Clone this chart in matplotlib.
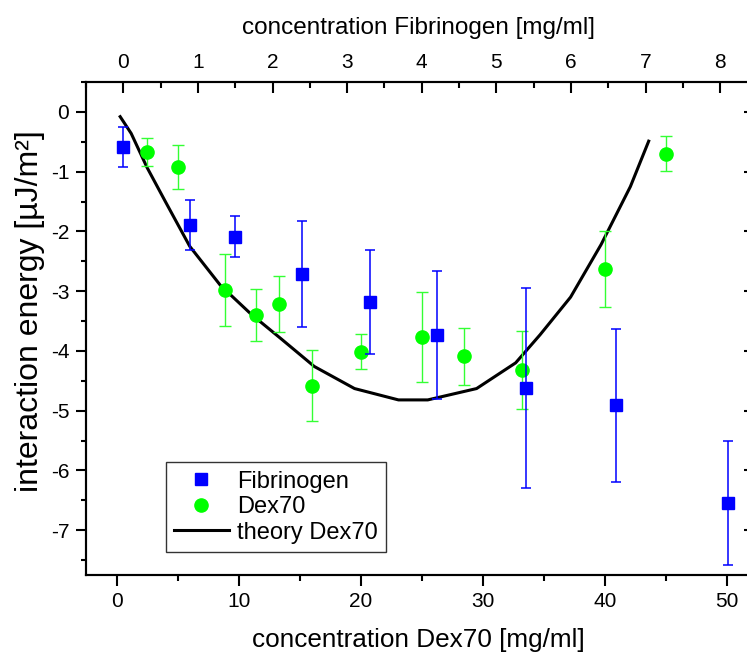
import matplotlib
matplotlib.use('Agg')
import matplotlib.pyplot as plt
from matplotlib.ticker import MultipleLocator
from matplotlib.lines import Line2D

plt.rcParams['font.family'] = ['Liberation Sans', 'DejaVu Sans']
plt.rcParams['axes.unicode_minus'] = False

# Fibrinogen data (top axis, mg/ml)
fib_conc = [0.0, 0.9, 1.5, 2.4, 3.3, 4.2, 5.4, 6.6, 8.1]
fib_energy = [-0.59, -1.89, -2.09, -2.71, -3.18, -3.74, -4.62, -4.91, -6.55]
fib_err = [0.33, 0.42, 0.34, 0.89, 0.87, 1.07, 1.67, 1.28, 1.04]

# Dex70 data (bottom axis, mg/ml)
dex_conc = [2.5, 5.0, 8.85, 11.4, 13.3, 16.0, 20.0, 25.0, 28.5, 33.25, 40.0, 45.0]
dex_energy = [-0.67, -0.92, -2.98, -3.40, -3.21, -4.58, -4.01, -3.77, -4.09, -4.32, -2.63, -0.70]
dex_err = [0.24, 0.37, 0.61, 0.43, 0.47, 0.59, 0.29, 0.75, 0.48, 0.66, 0.64, 0.29]

# theory curve for Dex70
theory_x = [0.3, 1.2, 2.5, 4.0, 6.0, 8.5, 11.0, 13.5, 16.2, 19.5, 23.1, 25.5,
            29.5, 32.7, 34.7, 37.2, 39.7, 42.1, 43.6]
theory_y = [-0.08, -0.36, -0.93, -1.50, -2.25, -2.90, -3.38, -3.80, -4.26, -4.63,
            -4.82, -4.82, -4.63, -4.20, -3.73, -3.10, -2.22, -1.25, -0.49]

fig = plt.figure(figsize=(7.47, 6.57), dpi=100)
ax = fig.add_axes([86 / 747, 1 - 575 / 657, 664 / 747, 493 / 657])

ax.plot(theory_x, theory_y, color='black', lw=2.2, zorder=2)
ax.errorbar(dex_conc, dex_energy, yerr=dex_err, fmt='o', color='#00ff00', ms=9.5,
            ecolor='#33ff33', elinewidth=1, capsize=4, capthick=1, zorder=3)

ax.set_xlim(-2.5, 51.9)
ax.set_ylim(-7.75, 0.5)
ax.xaxis.set_major_locator(MultipleLocator(10))
ax.xaxis.set_minor_locator(MultipleLocator(5))
ax.yaxis.set_major_locator(MultipleLocator(1))
ax.yaxis.set_minor_locator(MultipleLocator(0.5))
ax.tick_params(axis='x', which='major', direction='out', length=7.7, width=1.5,
               labelsize=15, pad=4.3, top=False)
ax.tick_params(axis='x', which='minor', direction='out', length=4, width=1.5, top=False)
ax.tick_params(axis='y', which='major', direction='out', length=7.3, width=1.5,
               labelsize=15, pad=4.8, right=False)
ax.tick_params(axis='y', which='minor', direction='out', length=3.7, width=1.5, right=False)
for s in ax.spines.values():
    s.set_linewidth(1.5)

# top axis for Fibrinogen
ax2 = ax.twiny()
ax2.errorbar(fib_conc, fib_energy, yerr=fib_err, fmt='s', color='#0000ff', ms=8,
             elinewidth=1.1, capsize=3.6, capthick=1.1, zorder=4)
ax2.set_xlim(-0.5, 8.4)
ax2.xaxis.set_major_locator(MultipleLocator(1))
ax2.xaxis.set_minor_locator(MultipleLocator(0.5))
ax2.tick_params(axis='x', which='major', direction='in', length=7.7, width=1.5,
                labelsize=15, pad=7.5)
ax2.tick_params(axis='x', which='minor', direction='in', length=4, width=1.5)
for s in ax2.spines.values():
    s.set_linewidth(1.5)

# right axis: inward ticks only
sec = ax.secondary_yaxis('right')
sec.yaxis.set_major_locator(MultipleLocator(1))
sec.tick_params(direction='in', length=4, width=1.5, labelright=False)
sec.spines['right'].set_linewidth(1.5)

ax.set_xlabel('concentration Dex70 [mg/ml]', fontsize=18.8)
ax.xaxis.set_label_coords(0.5, -0.1085)
ax2.set_xlabel('concentration Fibrinogen [mg/ml]', fontsize=17.5)
ax2.xaxis.set_label_coords(0.5, 1.098)
ax.set_ylabel('interaction energy [µJ/m²]', fontsize=23)
ax.yaxis.set_label_coords(-0.062, 0.535)

handles = [Line2D([], [], ls='none', marker='s', color='#0000ff', ms=8),
           Line2D([], [], ls='none', marker='o', color='#00ff00', ms=9.5),
           Line2D([], [], color='black', lw=2.2)]
labels = ['Fibrinogen', 'Dex70', 'theory Dex70']
leg = ax2.legend(handles, labels, loc='lower left', bbox_to_anchor=(0.1205, 0.0467),
                 bbox_transform=ax.transAxes, fontsize=17, frameon=True, fancybox=False,
                 edgecolor='#333333', framealpha=1, borderaxespad=0, handlelength=2.3,
                 handletextpad=0.35, labelspacing=0.15, borderpad=0.35)
leg.get_frame().set_linewidth(1)

fig.savefig('out.png', dpi=100)
